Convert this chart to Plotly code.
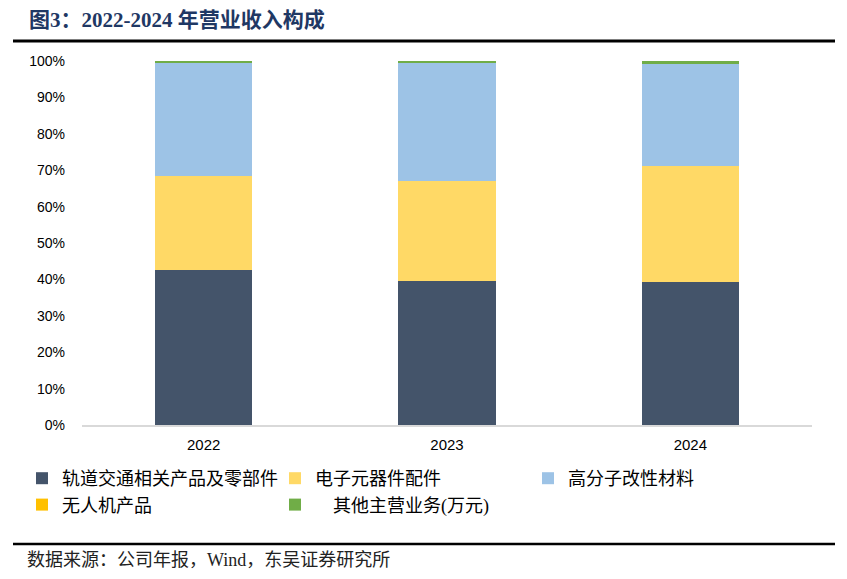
import plotly.graph_objects as go

years = ["2022", "2023", "2024"]
series_names = ["轨道交通相关产品及零部件", "电子元器件配件", "高分子改性材料", "无人机产品", "\u3000其他主营业务(万元)"]
rail = [42.6, 39.6, 39.3]
electronics = [25.8, 27.4, 31.9]
polymer = [31.0, 32.4, 28.0]
drone = [0.0, 0.0, 0.0]
other = [0.6, 0.6, 0.8]
y_ticks = [0, 10, 20, 30, 40, 50, 60, 70, 80, 90, 100]
y_tick_labels = [f"{v}%" for v in y_ticks]

colors = ["#44546A", "#FFD966", "#9DC3E6", "#FFC000", "#70AD47"]
values = [rail, electronics, polymer, drone, other]

OFF = 8  # page body margin
W, H = 847 - 2 * OFF, 579 - 2 * OFF
L, T = 82 - OFF, 61 - OFF
pw, ph = 730, 364
R = W - L - pw
B = H - T - ph


def px(sx):
    return (sx - OFF - L) / pw


def py(sy):
    return (H - B - (sy - OFF)) / ph


fig = go.Figure()
for name, vals, c in zip(series_names, values, colors):
    fig.add_trace(go.Bar(x=years, y=vals, name=name, marker=dict(color=c, line=dict(width=0)), width=0.4))

serif = "Liberation Serif, Noto Sans CJK SC, serif"
fig.update_layout(
    barmode="stack",
    width=W, height=H,
    margin=dict(l=L, r=R, t=T, b=B, autoexpand=False),
    paper_bgcolor="white", plot_bgcolor="white",
    showlegend=True,
    legend=dict(orientation="h", x=px(22), xanchor="left", y=py(460), yanchor="top",
                entrywidth=208, entrywidthmode="pixels", itemwidth=30,
                font=dict(family=serif, size=18, color="#000000"),
                traceorder="normal", bgcolor="rgba(0,0,0,0)"),
    xaxis=dict(type="category", range=[-0.5, 2.5], showline=True, linecolor="#D9D9D9", linewidth=1.5,
               showgrid=False, ticks="", ticklabelstandoff=5,
               tickfont=dict(family="Liberation Sans, Arial, sans-serif", size=15, color="#000")),
    yaxis=dict(range=[0, 100], tickvals=y_ticks, ticktext=y_tick_labels, showgrid=False, zeroline=False,
               showline=False, ticks="", ticklabelstandoff=16,
               tickfont=dict(family="Liberation Sans, Arial, sans-serif", size=14, color="#000")),
    shapes=[
        dict(type="line", xref="paper", yref="paper", x0=px(13), x1=px(835), y0=py(41), y1=py(41),
             line=dict(color="#000000", width=3)),
        dict(type="line", xref="paper", yref="paper", x0=px(13), x1=px(835), y0=py(544), y1=py(544),
             line=dict(color="#000000", width=2.5)),
    ],
    annotations=[
        dict(text="<b>图3：2022-2024 年营业收入构成</b>", xref="paper", yref="paper", x=px(27), y=py(20),
             xanchor="left", yanchor="middle", showarrow=False,
             font=dict(family=serif, size=21, color="#1F3864")),
        dict(text="数据来源：公司年报，Wind，东吴证券研究所", xref="paper", yref="paper", x=px(25), y=py(560),
             xanchor="left", yanchor="middle", showarrow=False,
             font=dict(family=serif, size=18, color="#222222")),
    ],
)

fig.write_html("out.html")
